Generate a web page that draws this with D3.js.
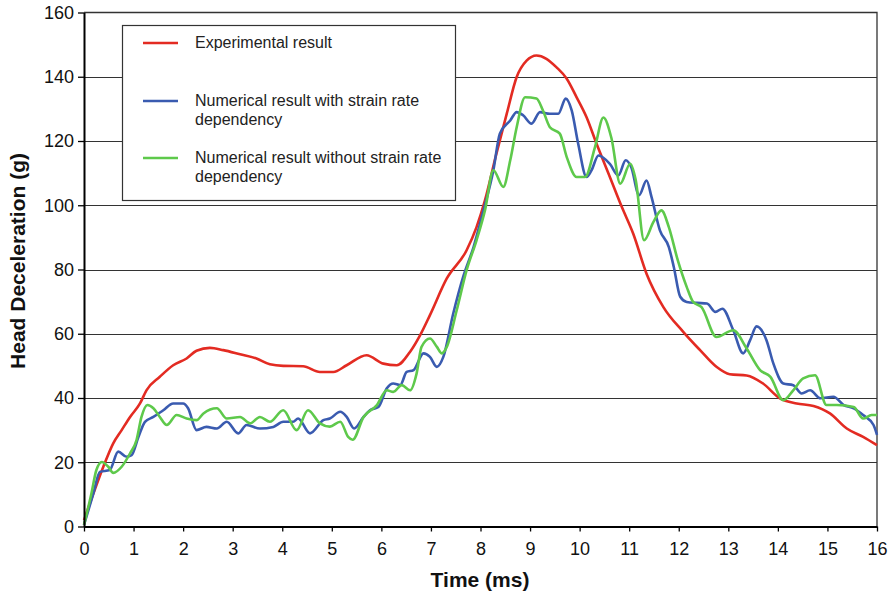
<!DOCTYPE html>
<html><head><meta charset="utf-8">
<script src="https://cdn.jsdelivr.net/npm/d3@7"></script>
<style>body{margin:0;background:#fff;} svg{display:block;font-family:"Liberation Sans",Arial,sans-serif;}</style>
</head><body>
<svg id="c" width="895" height="596"></svg>
<script>
const xTicks = [0,1,2,3,4,5,6,7,8,9,10,11,12,13,14,15,16];
const yTicks = [0,20,40,60,80,100,120,140,160];
const seriesNames = ["Experimental result","Numerical result with strain rate dependency","Numerical result without strain rate dependency"];
const seriesColors = ["#e32b22","#3a5bb0","#5ec94b"];

const experimental = [[0,2],[0.19,10.3],[0.39,18.6],[0.59,25.9],[0.76,30],[0.93,34.1],[1.13,38.3],[1.26,42.4],[1.53,46.6],[1.8,50.2],[2.07,52.3],[2.27,54.7],[2.54,55.6],[2.81,54.9],[3.15,53.6],[3.48,52.3],[3.75,50.5],[4.02,50],[4.42,49.9],[4.76,48.1],[5.03,48.1],[5.3,50.2],[5.7,53.3],[6.04,50.7],[6.31,50.2],[6.58,54.4],[6.78,59.5],[6.98,65.8],[7.32,77.2],[7.72,86],[7.92,93.2],[8.09,101.5],[8.32,116],[8.53,128.5],[8.73,139.9],[8.93,145],[9.13,146.6],[9.33,145.6],[9.53,143],[9.74,139.4],[9.94,133.6],[10.14,127.4],[10.34,119.2],[10.61,108.8],[10.85,99.5],[11.08,91.2],[11.35,78.7],[11.69,68.3],[12.09,60.6],[12.43,54.9],[12.76,49.7],[13.03,47.4],[13.37,47],[13.7,44.5],[14.04,39.9],[14.38,38.3],[14.72,37.5],[15.05,35.2],[15.39,30.5],[15.72,27.9],[16,25.3]];

const withRate = [[0,0.5],[0.19,10.3],[0.32,17],[0.52,17.6],[0.69,23.3],[0.86,21.7],[0.96,22.2],[1.1,27.9],[1.23,32.6],[1.4,34.1],[1.6,36.2],[1.8,38.3],[2.0,38.3],[2.1,36.8],[2.27,30],[2.47,31],[2.68,30.5],[2.88,32.6],[3.11,29],[3.28,31.6],[3.55,30.5],[3.82,31],[4.02,32.6],[4.22,32.6],[4.32,33.6],[4.56,29],[4.83,33.1],[4.96,33.6],[5.17,35.7],[5.3,34.1],[5.45,30.5],[5.64,34.1],[5.77,36.2],[5.94,37.2],[6.11,43],[6.24,44.5],[6.38,44],[6.51,48.1],[6.65,48.7],[6.85,53.9],[6.98,52.8],[7.12,49.7],[7.25,52.8],[7.45,66.3],[7.65,77.7],[7.86,87],[8.06,98.4],[8.26,110.9],[8.39,122.3],[8.6,126.4],[8.73,129],[8.86,128],[9.03,125.4],[9.2,129],[9.4,128.5],[9.57,128.5],[9.72,133.2],[9.84,129.5],[9.97,119.2],[10.14,108.8],[10.24,110.9],[10.38,115.5],[10.61,112.9],[10.78,109.3],[10.93,114],[11.04,111.9],[11.2,103.1],[11.35,107.7],[11.45,102.6],[11.62,92.2],[11.8,87],[11.9,80.8],[12.03,71.5],[12.16,69.9],[12.37,69.6],[12.57,69.4],[12.74,66.8],[12.88,67.8],[13.1,61.1],[13.3,53.9],[13.44,58],[13.57,62.3],[13.77,58],[13.91,50.7],[14.11,44.5],[14.31,44],[14.48,41.4],[14.65,42.4],[14.86,39.9],[15.12,40.4],[15.33,37.8],[15.53,36.8],[15.72,34.7],[15.93,31.6],[16,28.5]];

const withoutRate = [[0,0.5],[0.15,10.3],[0.25,17.6],[0.36,20.1],[0.49,18.6],[0.59,16.7],[0.76,18.6],[0.93,22.8],[1.06,26.9],[1.16,34.1],[1.28,37.8],[1.4,36.8],[1.53,34.1],[1.67,31.6],[1.87,34.7],[2.07,33.6],[2.27,33.1],[2.41,35.2],[2.68,36.8],[2.88,33.6],[3.15,34.1],[3.35,32.1],[3.55,34.1],[3.75,32.6],[4.02,36.2],[4.29,30],[4.52,36.2],[4.76,32.1],[4.96,31.1],[5.17,32.6],[5.33,27.9],[5.42,27],[5.64,34.1],[5.91,37.8],[6.11,42.4],[6.24,41.9],[6.41,44],[6.58,42.4],[6.71,47.6],[6.81,55.9],[6.98,58.5],[7.12,55.9],[7.22,53.9],[7.32,55.9],[7.52,67.3],[7.72,79.8],[7.92,89.1],[8.09,98.4],[8.26,110.9],[8.46,105.7],[8.6,114],[8.73,124.3],[8.9,133.6],[9.13,133.2],[9.26,129.5],[9.4,124.3],[9.6,122.3],[9.74,115],[9.94,108.8],[10.11,108.8],[10.31,118.1],[10.48,127.3],[10.64,121],[10.82,106.7],[11.02,112.9],[11.13,108],[11.3,89.1],[11.49,94.8],[11.65,98.4],[11.8,93.2],[11.98,82.9],[12.16,74.6],[12.29,69.9],[12.46,68.3],[12.76,59],[13.1,61.1],[13.37,55.4],[13.64,48.7],[13.85,46.6],[14.11,39.3],[14.31,42.4],[14.51,46.1],[14.75,47.1],[14.98,37.8],[15.19,37.8],[15.53,37.2],[15.72,33.6],[15.89,34.7],[16,34.7]];

const allSeries = [experimental, withRate, withoutRate];

const svg = d3.select("#c");
const x = d3.scaleLinear().domain([0,16]).range([84,877]);
const y = d3.scaleLinear().domain([0,160]).range([526.5,12.5]);

// gridlines
svg.append("g").selectAll("line").data(yTicks.filter(d=>d>0 && d<160)).join("line")
  .attr("x1",84).attr("x2",877).attr("y1",d=>Math.round(y(d))+0.5).attr("y2",d=>Math.round(y(d))+0.5)
  .attr("stroke","#333").attr("stroke-width",1.2);
// frame top & right
svg.append("path").attr("d",`M84,${y(160)}H${x(16)}V${y(0)}`).attr("fill","none").attr("stroke","#333").attr("stroke-width",1.3);

// legend
const lg = svg.append("g");
lg.append("rect").attr("x",122.5).attr("y",25.5).attr("width",333).attr("height",175).attr("fill","#fff").attr("stroke","#333").attr("stroke-width",1.2);
const legY = [43,101,158];
const legLines = [["Experimental result"],["Numerical result with strain rate","dependency"],["Numerical result without strain rate","dependency"]];
legLines.forEach((lines,i)=>{
  lg.append("line").attr("x1",143).attr("x2",178).attr("y1",legY[i]).attr("y2",legY[i]).attr("stroke",seriesColors[i]).attr("stroke-width",2.5);
  const t = lg.append("text").attr("x",195).attr("y",legY[i]+5).attr("font-size",16).attr("fill","#222");
  lines.forEach((s,j)=>t.append("tspan").attr("x",195).attr("dy",j===0?0:19).text(s));
});

// lines
const line = d3.line().x(d=>x(d[0])).y(d=>y(d[1])).curve(d3.curveMonotoneX);
allSeries.forEach((s,i)=>{
  svg.append("path").datum(s).attr("d",line).attr("fill","none").attr("stroke",seriesColors[i]).attr("stroke-width",2.6).attr("stroke-linejoin","round");
});

// axes
const xAxis = svg.append("g").attr("transform",`translate(0,${y(0)})`)
  .call(d3.axisBottom(x).tickValues(xTicks).tickFormat(d3.format("d")).tickSize(5).tickSizeOuter(0));
const yAxis = svg.append("g").attr("transform",`translate(84,0)`)
  .call(d3.axisLeft(y).tickValues(yTicks).tickFormat(d3.format("d")).tickSize(6).tickSizeOuter(0));
[xAxis,yAxis].forEach(a=>{
  a.select(".domain").attr("stroke","#000").attr("stroke-width",2);
  a.selectAll(".tick line").attr("stroke","#000").attr("stroke-width",1.3);
  a.selectAll(".tick text").attr("font-family","Liberation Sans, Arial, sans-serif").attr("font-size",18).attr("fill","#111");
});
xAxis.selectAll(".tick text").attr("dy","1em").attr("y",10);
yAxis.selectAll(".tick text").attr("x",-10);

svg.append("text").attr("x",480).attr("y",587).attr("text-anchor","middle").attr("font-weight","bold").attr("font-size",21).attr("fill","#111").text("Time (ms)");
svg.append("text").attr("transform","translate(25,261) rotate(-90)").attr("text-anchor","middle").attr("font-weight","bold").attr("font-size",21).attr("fill","#111").text("Head Deceleration (g)");
</script>
</body></html>
